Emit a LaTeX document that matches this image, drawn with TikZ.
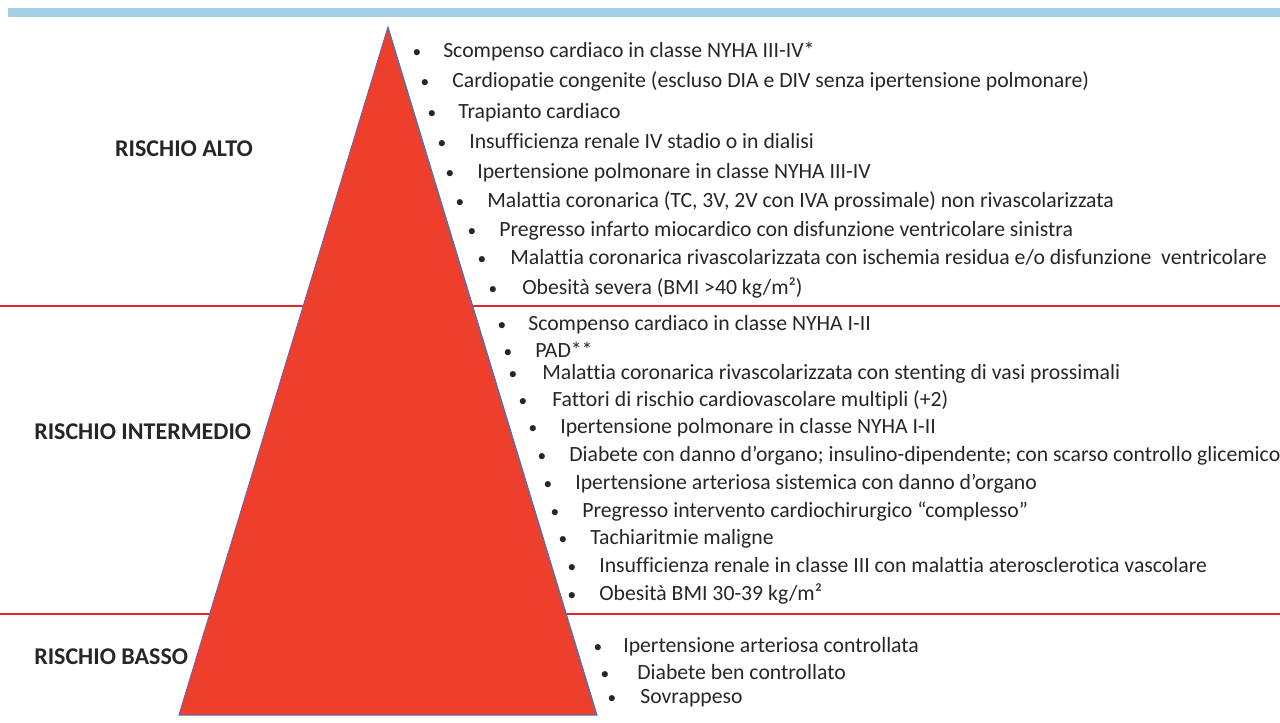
\documentclass[tikz,border=0pt]{standalone}
\usepackage{fontspec}
\setmainfont{Carlito}[Ligatures=CommonOff]
\usepackage{tikz}
\usetikzlibrary{positioning}

\definecolor{rosso}{HTML}{EE3E2C}
\definecolor{rigarossa}{HTML}{E8262A}
\definecolor{bordoblu}{HTML}{4472C4}
\definecolor{barrablu}{HTML}{A6CFE4}
\definecolor{testo}{HTML}{262626}

\begin{document}
\begin{tikzpicture}[x=0.75pt,y=-0.75pt,
  voce/.style={anchor=base west,inner sep=0pt,text=testo,font=\fontsize{16.3}{19}\selectfont},
  puntino/.style={anchor=base,inner sep=0pt,text=testo,font=\fontsize{13}{16}\selectfont},
  livello/.style={inner sep=0pt,text=testo,font=\fontsize{18}{21}\selectfont\bfseries},
  separatore/.style={draw=rigarossa,line width=1.5pt}]
\useasboundingbox (0,0) rectangle (1280,723);

% barra in alto
\fill[barrablu] (8,8) rectangle (1280,17);

% righe tra i livelli
\coordinate (s1) at (0,306.5);  \coordinate (e1) at (1280,306.5);
\coordinate (s2) at (0,614);    \coordinate (e2) at (1280,614);
\draw[separatore] (s1) -- (e1);
\draw[separatore] (s2) -- (e2);

% piramide
\coordinate (apice) at (388,27);
\coordinate (basesx) at (179,715);
\coordinate (basedx) at (597,715);
\filldraw[fill=rosso,draw=bordoblu,line width=0.75pt] (apice) -- (basedx) -- (basesx) -- cycle;

% livelli
\node[livello,anchor=east] (alto) at (253,149) {RISCHIO ALTO};
\node[livello,anchor=west] (intermedio) at (34,432) {RISCHIO INTERMEDIO};
\node[livello,anchor=west] (basso) at (34,657) {RISCHIO BASSO};

% rischio alto
\foreach \bx/\tx/\ty/\txt [count=\n] in {
  417/443/51/{Scompenso cardiaco in classe NYHA III-IV*},
  425/452/81/{Cardiopatie congenite (escluso DIA e DIV senza ipertensione polmonare)},
  432/458/112/{Trapianto cardiaco},
  442/469/142/{Insufficienza renale IV stadio o in dialisi},
  450/477/172/{Ipertensione polmonare in classe NYHA III-IV},
  460/487/201/{Malattia coronarica (TC, 3V, 2V con IVA prossimale) non rivascolarizzata},
  472/499/230/{Pregresso infarto miocardico con disfunzione ventricolare sinistra},
  482/510/258/{Malattia coronarica rivascolarizzata con ischemia residua e/o disfunzione~ ventricolare},
  493/522/288/{Obesità severa (BMI >40 kg/m²)}}
  {
  \node[puntino] (pa\n) at (\bx,\ty+7) {\textbullet};
  \node[voce] (va\n) at (\tx,\ty+7) {\txt};
  }

% rischio intermedio
\foreach \bx/\tx/\ty/\txt [count=\n] in {
  502/528/323/{Scompenso cardiaco in classe NYHA I-II},
  508/535/350/{PAD**},
  513/542/372/{Malattia coronarica rivascolarizzata con stenting di vasi prossimali},
  523/552/399/{Fattori di rischio cardiovascolare multipli (+2)},
  533/560/426/{Ipertensione polmonare in classe NYHA I-II},
  542/569/454/{Diabete con danno d’organo; insulino-dipendente; con scarso controllo glicemico},
  548/575/482/{Ipertensione arteriosa sistemica con danno d’organo},
  555/582/510/{Pregresso intervento cardiochirurgico “complesso”},
  563/590/537/{Tachiaritmie maligne},
  572/599/565/{Insufficienza renale in classe III con malattia aterosclerotica vascolare},
  572/599/593/{Obesità BMI 30-39 kg/m²}}
  {
  \node[puntino] (pi\n) at (\bx,\ty+7) {\textbullet};
  \node[voce] (vi\n) at (\tx,\ty+7) {\txt};
  }

% rischio basso
\foreach \bx/\tx/\ty/\txt [count=\n] in {
  598/623/645/{Ipertensione arteriosa controllata},
  605/637/672/{Diabete ben controllato},
  612/640/696/{Sovrappeso}}
  {
  \node[puntino] (pb\n) at (\bx,\ty+7) {\textbullet};
  \node[voce] (vb\n) at (\tx,\ty+7) {\txt};
  }
\end{tikzpicture}
\end{document}
